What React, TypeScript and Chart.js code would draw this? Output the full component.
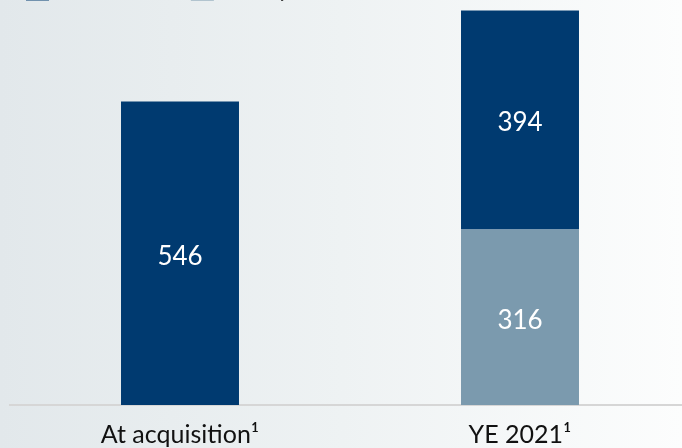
import React, { useEffect, useRef } from "react";
import { Chart, registerables } from "chart.js";

Chart.register(...registerables);

const categories = ["At acquisition¹", "YE 2021¹"];
const seriesNames = ["Established", "Newly built"];
const darkValues = [546, 394];
const lightValues = [null, 316];
const darkColor = "#003a70";
const lightColor = "#7b9aae";
const FONT = "Lato";

const valueLabels = {
  id: "valueLabels",
  afterDatasetsDraw(chart: any) {
    const ctx = chart.ctx;
    ctx.save();
    ctx.fillStyle = "#ffffff";
    ctx.font = `26px ${FONT}`;
    ctx.textAlign = "center";
    ctx.textBaseline = "middle";
    chart.data.datasets.forEach((ds: any, i: number) => {
      const meta = chart.getDatasetMeta(i);
      meta.data.forEach((el: any, j: number) => {
        const v = ds.data[j];
        if (v == null) return;
        const { x, y, base } = el.getProps(["x", "y", "base"], true);
        ctx.fillText(String(v), x, (y + base) / 2 + 3);
      });
    });
    ctx.restore();
  },
};

export default function App() {
  const ref = useRef<HTMLCanvasElement>(null);
  useEffect(() => {
    const chart = new Chart(ref.current!, {
      type: "bar",
      data: {
        labels: categories,
        datasets: [
          {
            label: seriesNames[1],
            data: lightValues,
            backgroundColor: lightColor,
            borderWidth: 0,
            categoryPercentage: 1,
            barPercentage: 0.347,
            clip: false,
          },
          {
            label: seriesNames[0],
            data: darkValues,
            backgroundColor: darkColor,
            borderWidth: 0,
            categoryPercentage: 1,
            barPercentage: 0.347,
            clip: false,
          },
        ],
      },
      options: {
        animation: false,
        responsive: false,
        maintainAspectRatio: false,
        layout: { padding: { left: 10, right: 2, top: 0, bottom: 0 } },
        plugins: {
          tooltip: { enabled: false },
          legend: {
            display: true,
            position: "top",
            align: "start",
            reverse: true,
            labels: {
              boxWidth: 23,
              boxHeight: 22,
              padding: 16,
              color: "#333333",
              font: { family: FONT, size: 23 },
            },
          },
        },
        scales: {
          x: {
            stacked: true,
            grid: { display: false, drawTicks: false },
            border: { display: true, color: "#d6d6d6", width: 2 },
            ticks: { color: "#111111", font: { family: FONT, size: 25 }, padding: 15 },
          },
          y: {
            stacked: true,
            display: false,
            min: 0,
            max: 709,
          },
        },
      },
      plugins: [valueLabels],
    });
    return () => chart.destroy();
  }, []);
  return (
    <div
      style={{
        position: "fixed",
        left: 0,
        top: 0,
        width: 682,
        height: 448,
        overflow: "hidden",
        background: "linear-gradient(to right, #e2e8eb 0%, #eef2f3 50%, #fcfdfd 100%)",
      }}
    >
      <canvas
        ref={ref}
        width={692}
        height={503}
        style={{ position: "absolute", left: 0, top: -38, width: 692, height: 503 }}
      />
    </div>
  );
}
